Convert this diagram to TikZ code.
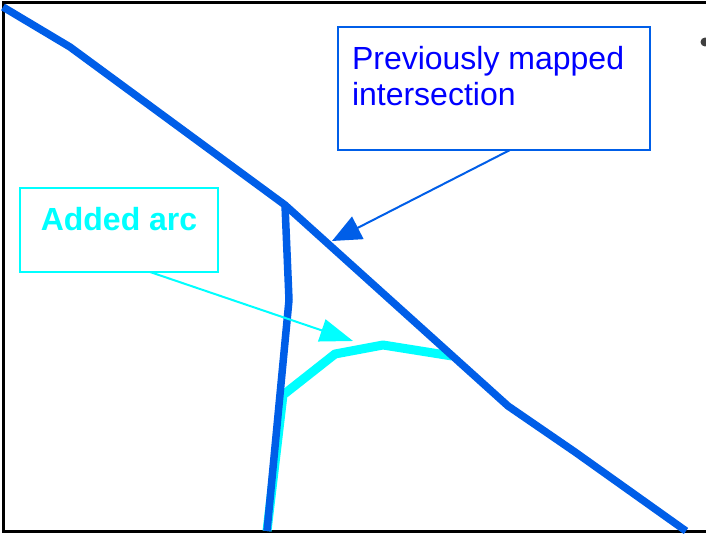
\documentclass[tikz,border=0pt]{standalone}
\usepackage{fontspec}
\setmainfont{Liberation Sans}
\definecolor{roadblue}{RGB}{0, 94, 232}
\definecolor{arccyan}{RGB}{0, 255, 255}
\definecolor{textblue}{RGB}{0, 0, 255}
\usetikzlibrary{arrows.meta, positioning, calc}

\begin{document}
\begin{tikzpicture}[x=1pt, y=-1pt,
    road/.style={roadblue, line width=7.5pt, line join=round},
    newarc/.style={arccyan, line width=9pt, line join=round},
    callout/.style={draw, line width=2pt, anchor=north west, inner sep=0pt, outer sep=0pt},
    pointer/.style={line width=2pt}]
  \useasboundingbox (0,0) rectangle (706,534);

  % --- frame ---
  \draw[line width=3pt] (706,3) -- (3,3) -- (3,531) -- (706,531);
  \fill[black!75] (705,42) circle (4.5pt);

  % --- added arc (under the roads) ---
  \draw[newarc] (267,531) -- (283,395) -- (335,354) -- (383,345) -- (452,356);

  % --- roads ---
  \coordinate (junction) at (285,205);
  \draw[road] (3,7) -- (70,47) -- (junction) -- (508,406) -- (575,452) -- (686,531);
  \draw[road] (junction) -- (289,300) -- (267,531);

  % --- callouts ---
  \node[callout, roadblue, text=textblue, font=\fontsize{32}{36}\selectfont] (mapped) at (338,27)
    {\parbox[t][123pt][t]{312pt}{\vspace{19pt}\hspace*{14pt}Previously mapped\\\hspace*{14pt}intersection}};
  \node[callout, arccyan, font=\fontsize{32}{36}\selectfont\bfseries] (added) at (20,188)
    {\parbox[t][84pt][t]{198pt}{\vspace{19pt}\centering Added arc}};

  \coordinate (mappedtip) at (332,241);
  \coordinate (addedtip) at (353,341);
  \draw[pointer, roadblue, -{Triangle[length=29pt, width=25pt]}] ($(mapped.south)+(16,0)$) -- (mappedtip);
  \draw[pointer, arccyan, -{Triangle[length=33pt, width=23pt]}] ($(added.south)+(31,0)$) -- (addedtip);
\end{tikzpicture}
\end{document}
